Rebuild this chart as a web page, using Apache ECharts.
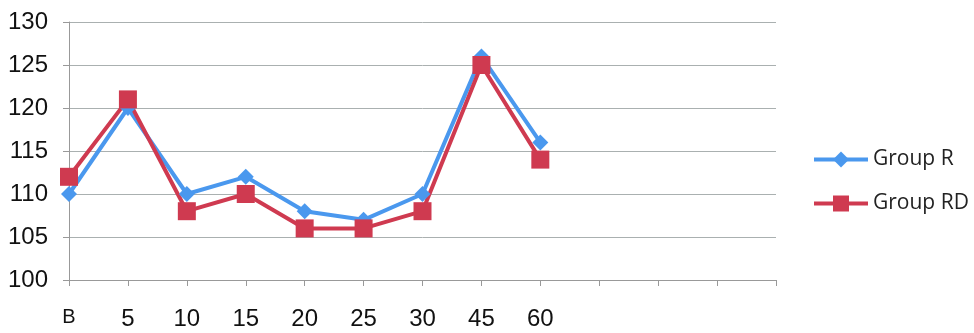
<!DOCTYPE html>
<html><head><meta charset="utf-8">
<script src="https://cdn.jsdelivr.net/npm/echarts@6/dist/echarts.min.js"></script>
<style>html,body{margin:0;padding:0;background:#fff}#c{width:974px;height:333px}</style>
</head><body><div id="c"></div>
<script>
const categories = ['B','5','10','15','20','25','30','45','60','','','',''];
const groupR = [110,120,110,112,108,107,110,126,116];
const groupRD = [112,121,108,110,106,106,108,125,114];
const yTicks = {min:100, max:130, interval:5};
const chart = echarts.init(document.getElementById('c'));
chart.setOption({
  animation:false,
  backgroundColor:'#fff',
  grid:{left:69,right:198,top:22,bottom:53},
  legend:{
    orient:'vertical', left:807, top:144, itemGap:23, itemWidth:54, itemHeight:20,
    textStyle:{fontFamily:'Open Sans', fontSize:21, color:'#222'},
    lineStyle:{width:4},
    data:['Group R','Group RD']
  },
  xAxis:{
    type:'category', data:categories, boundaryGap:false,
    axisLine:{lineStyle:{color:'#999',width:1}},
    axisTick:{show:true,length:6,lineStyle:{color:'#999'}},
    axisLabel:{fontFamily:'Liberation Sans',fontSize:24,color:'#111',margin:27,interval:0,
      formatter:function(v){return v==='B'?'{b|B}':v;},
      rich:{b:{fontFamily:'Liberation Sans',fontSize:20,color:'#111'}}},
    splitLine:{show:false}
  },
  yAxis:{
    type:'value', min:yTicks.min, max:yTicks.max, interval:yTicks.interval,
    axisLine:{show:true,lineStyle:{color:'#999'}},
    axisTick:{show:true,length:6,lineStyle:{color:'#999'}},
    axisLabel:{fontFamily:'Liberation Sans',fontSize:24,color:'#111',margin:21},
    splitLine:{lineStyle:{color:'#aab0b0',width:1}}
  },
  series:[
    {name:'Group R',type:'line',data:groupR,symbol:'diamond',symbolSize:16,
     lineStyle:{color:'#4a98ee',width:4},itemStyle:{color:'#4a98ee'}},
    {name:'Group RD',type:'line',data:groupRD,symbol:'rect',symbolSize:18,
     lineStyle:{color:'#cf3a50',width:4},itemStyle:{color:'#cf3a50'}}
  ]
});
</script></body></html>
